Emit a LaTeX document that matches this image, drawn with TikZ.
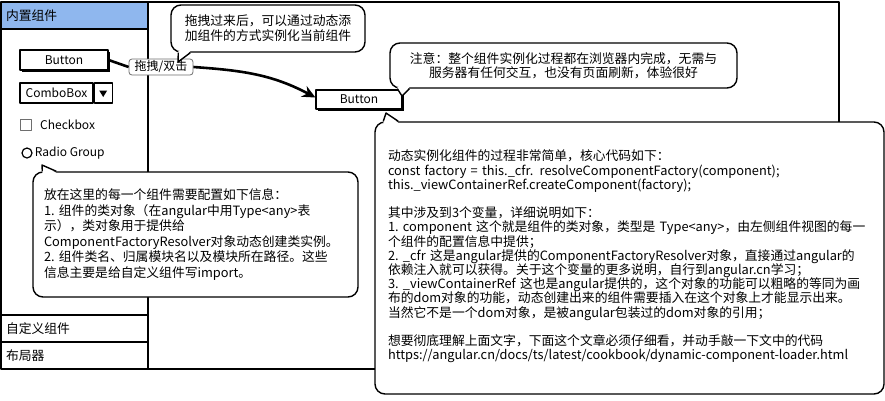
\documentclass[tikz,border=0pt]{standalone}
\usepackage{fontspec}
\setmainfont{Noto Sans CJK SC}
\usetikzlibrary{positioning,arrows.meta,shadows}
\definecolor{hdrblue}{RGB}{143,183,238}
\definecolor{boxgray}{RGB}{110,110,110}

\begin{document}
\begin{tikzpicture}[x=1pt,y=-1pt,line join=round]
 \tikzstyle{ln} = [line width=1.6pt]
 \tikzstyle{item} = [draw, line width=1.6pt, minimum width=147pt, minimum height=27pt, text width=137pt, inner xsep=5pt, inner ysep=0pt, align=left, font=\fontsize{12.8}{15}\selectfont]
 \tikzstyle{lbl} = [font=\fontsize{12}{14}\selectfont, inner sep=0pt]
 \tikzstyle{btn} = [draw, line width=1.2pt, fill=white, minimum height=20pt, lbl, drop shadow={shadow xshift=1.6pt, shadow yshift=-2pt, fill=black, opacity=1}]
 \tikzstyle{bubble} = [draw, line width=1.4pt, fill=white, rounded corners=10pt, inner sep=0pt, font=\fontsize{12.8}{14.2}\selectfont]
 \tikzstyle{tail} = [line width=1.4pt]
 \tikzstyle{wire} = [line width=2.6pt]
 \useasboundingbox (0,0) rectangle (885,400);

    % frame: palette on the left, canvas on the right
    \draw[ln] (148,2) rectangle (839,369);
    \draw[ln] (1,29) rectangle (148,315);
    \node[item, fill=hdrblue] (hdr) at (74.5,15.5) {内置组件};
    \node[item] (cust) at (74.5,328.5) {自定义组件};
    \node[item] (lay) at (74.5,355.5) {布局器};

    % palette
    \node[btn, minimum width=88pt] (btn) at (64,60) {Button};
    \node[draw, line width=1.2pt, minimum width=73pt, minimum height=20pt, lbl] (cmb) at (56.5,93) {ComboBox};
    \node[draw, line width=1.2pt, minimum width=18pt, minimum height=20pt, inner sep=0pt, anchor=west] (cmbdd) at (cmb.east) {};
    \fill ([shift={(-4pt,2.5pt)}]cmbdd.center) -- ([shift={(4pt,2.5pt)}]cmbdd.center) -- ([shift={(0pt,-4pt)}]cmbdd.center) -- cycle;
    \node[draw=boxgray, line width=1pt, minimum size=11pt, inner sep=0pt] (chk) at (26,125) {};
    \node[lbl, right=8pt of chk] (chktxt) {Checkbox};
    \node[draw, circle, line width=1.2pt, minimum size=10pt, inner sep=0pt] (rad) at (27,153) {};
    \node[lbl, right=2pt of rad] (radtxt) {Radio Group};

    % drop target
    \node[btn, minimum width=86pt, minimum height=19pt] (tgt) at (359,99.5) {Button};
    \node[draw=boxgray, line width=0.8pt, rounded corners=3pt, fill=white, minimum width=64pt, minimum height=16pt, lbl] (drag) at (161,67) {拖拽/双击};
    \draw[wire] (btn.east) -- (drag.west);
    \draw[wire, -{Stealth[length=13pt,width=12pt]}] (drag.east) to[out=-4, in=152] ([yshift=2pt]tgt.west);

    % callouts
    \node[bubble, minimum width=194pt, minimum height=47pt, align=left, font=\fontsize{12.8}{15}\selectfont] (c1) at (268,28.5)
        {拖拽过来后，可以通过动态添\\加组件的方式实例化当前组件};
    \coordinate (t1) at (178,62);
    \fill[white] ([shift={(8pt,1.5pt)}]c1.south west) -- (t1) -- ([shift={(20pt,1.5pt)}]c1.south west) -- cycle;
    \draw[tail] ([xshift=8pt]c1.south west) -- (t1) -- ([xshift=20pt]c1.south west);

    \node[bubble, minimum width=347pt, minimum height=45pt, align=center, font=\fontsize{12.8}{14}\selectfont] (c2) at (563.5,65.5)
        {注意：整个组件实例化过程都在浏览器内完成，无需与\\服务器有任何交互，也没有页面刷新，体验很好};
    \coordinate (t2) at (402,96);
    \fill[white] ([shift={(8pt,1.5pt)}]c2.south west) -- (t2) -- ([shift={(20pt,1.5pt)}]c2.south west) -- cycle;
    \draw[tail] ([xshift=8pt]c2.south west) -- (t2) -- ([xshift=20pt]c2.south west);

    \node[bubble, minimum width=509pt, minimum height=272pt, text width=483pt, inner xsep=13pt, align=left] (c3) at (629.5,258)
        {动态实例化组件的过程非常简单，核心代码如下：\\
        const factory = this.\_cfr. resolveComponentFactory(component);\\
        this.\_viewContainerRef.createComponent(factory);\\
        \mbox{}\\
        其中涉及到3个变量，详细说明如下：\\
        1.~component 这个就是组件的类对象，类型是 Type<any>，由左侧组件视图的每一\\
        个组件的配置信息中提供；\\
        2.~\_cfr 这是angular提供的ComponentFactoryResolver对象，直接通过angular的\\
        依赖注入就可以获得。关于这个变量的更多说明，自行到angular.cn学习；\\
        3.~\_viewContainerRef 这也是angular提供的，这个对象的功能可以粗略的等同为画\\
        布的dom对象的功能，动态创建出来的组件需要插入在这个对象上才能显示出来。\\
        当然它不是一个dom对象，是被angular包装过的dom对象的引用；\\
        \mbox{}\\
        想要彻底理解上面文字，下面这个文章必须仔细看，并动手敲一下文中的代码\\
        https://angular.cn/docs/ts/latest/cookbook/dynamic-component-loader.html\\[-8pt]\mbox{}};
    \coordinate (t3) at (386,113);
    \fill[white] ([shift={(9pt,-1.5pt)}]c3.north west) -- (t3) -- ([shift={(24pt,-1.5pt)}]c3.north west) -- cycle;
    \draw[tail] ([xshift=9pt]c3.north west) -- (t3) -- ([xshift=24pt]c3.north west);

    \node[bubble, minimum width=325pt, minimum height=125pt, text width=303pt, inner xsep=11pt, align=left, font=\fontsize{12.8}{15.5}\selectfont] (c4) at (195.5,234.5)
        {放在这里的每一个组件需要配置如下信息：\\
        1.~组件的类对象（在angular中用Type<any>表\\
        示），类对象用于提供给\\
        ComponentFactoryResolver对象动态创建类实例。\\
        2.~组件类名、归属模块名以及模块所在路径。这些\\
        信息主要是给自定义组件写import。};
    \coordinate (t4) at (42,165);
    \fill[white] ([shift={(10pt,-1.5pt)}]c4.north west) -- (t4) -- ([shift={(24pt,-1.5pt)}]c4.north west) -- cycle;
    \draw[tail] ([xshift=10pt]c4.north west) -- (t4) -- ([xshift=24pt]c4.north west);

\end{tikzpicture}
\end{document}
